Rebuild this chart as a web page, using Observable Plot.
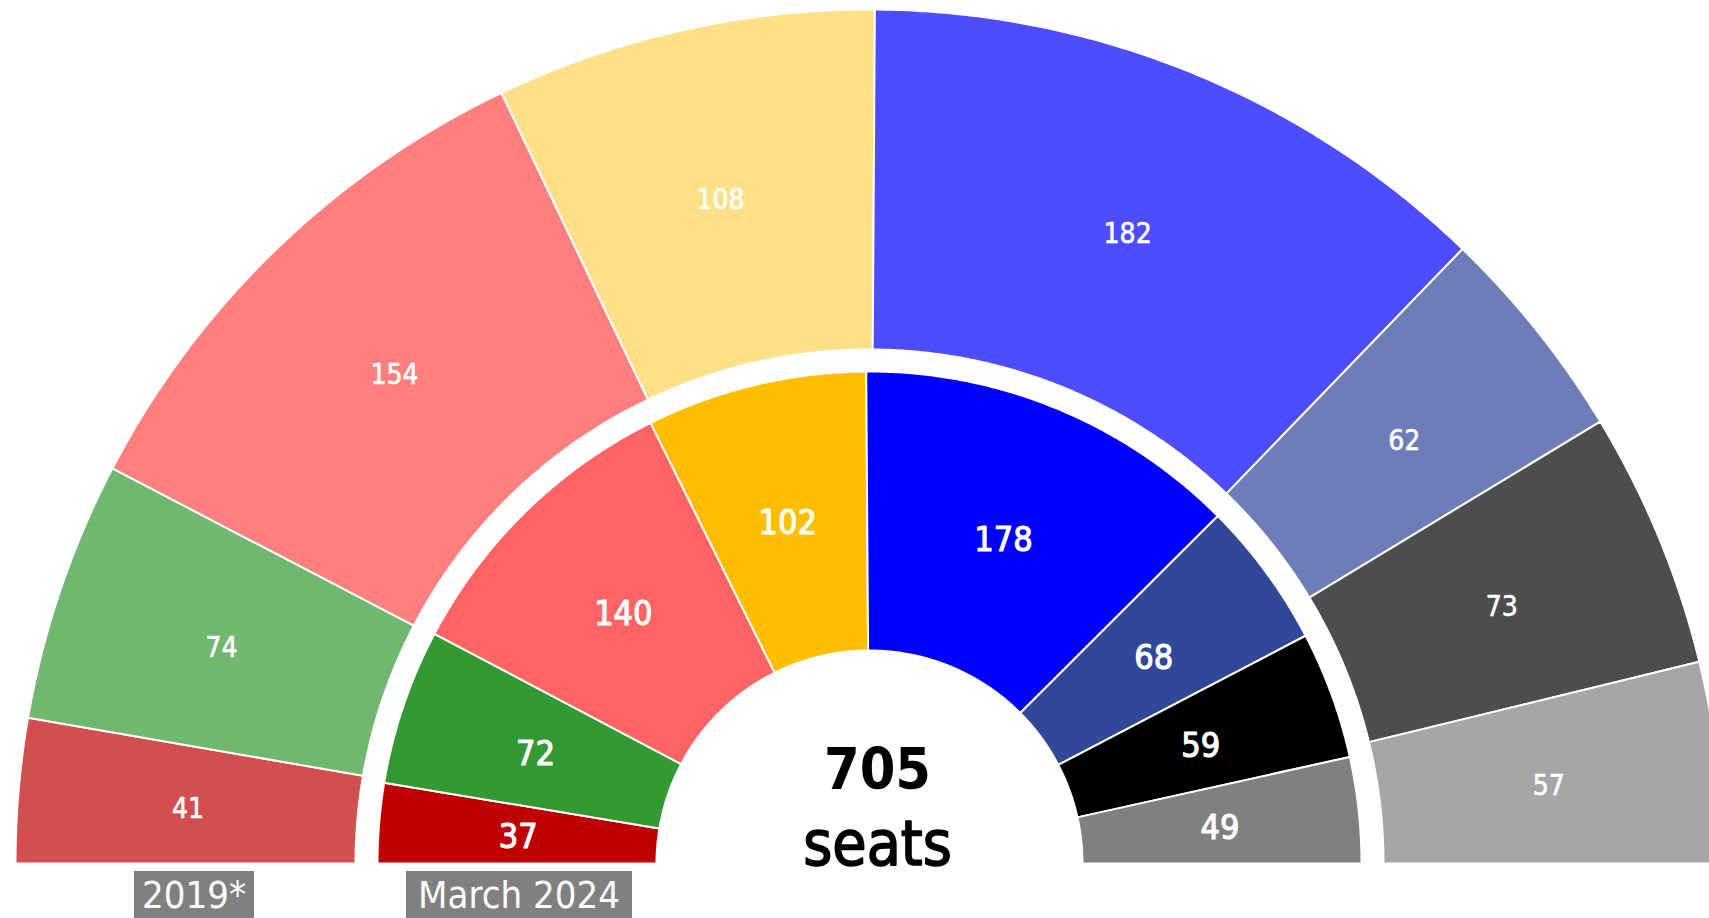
<!DOCTYPE html>
<html>
<head>
<meta charset="utf-8">
<script src="https://cdn.jsdelivr.net/npm/d3@7"></script>
<script src="https://cdn.jsdelivr.net/npm/@observablehq/plot@0.6"></script>
<style>
  html, body { margin: 0; padding: 0; background: #fff; }
  body { font-family: "DejaVu Sans Condensed", "DejaVu Sans", sans-serif; font-stretch: condensed; }
  #wrap { position: relative; width: 1709px; height: 918px; overflow: hidden; }
  #chart svg { display: block; overflow: hidden; }
  .tag { position: absolute; top: 871px; height: 47px; line-height: 48px; background: #808080; color: #fff;
         font-size: 38px; text-align: center; white-space: nowrap; }
</style>
</head>
<body>
<div id="wrap">
  <div id="chart"></div>
</div>
<script>
// ---- data ----
const groups = ["GUE/NGL", "Greens/EFA", "S&D", "Renew", "EPP", "ECR", "ID", "NI"];
const seats2019 = [41, 74, 154, 108, 182, 62, 73, 57];
const seats2024 = [37, 72, 140, 102, 178, 68, 59, 49];
const colors2019 = ["#d34e4e", "#70b870", "#ff7f7f", "#ffdf87", "#4d4dff", "#6d7db8", "#4d4d4d", "#a6a6a6"];
const colors2024 = ["#bf0000", "#339933", "#ff6363", "#ffbf00", "#0000ff", "#314899", "#000000", "#808080"];
const ringLabels = ["2019*", "March 2024"];
const centerUnit = "seats";

// ---- layout ----
const W = 1709, H = 890;
const cx = 869, baseline = 863;
const rings = [
  {name: ringLabels[0], values: seats2019, colors: colors2019, r0: 514, r1: 854},
  {name: ringLabels[1], values: seats2024, colors: colors2024, r0: 213, r1: 492}
];

const polys = [];
const labels = [];
rings.forEach((ring, ri) => {
  const total = d3.sum(ring.values);
  let cum = 0;
  ring.values.forEach((v, i) => {
    const a0 = Math.PI - Math.PI * cum / total;
    const a1 = Math.PI - Math.PI * (cum + v) / total;
    const key = ri + "-" + i;
    const n = 120;
    for (let k = 0; k <= n; k++) {
      const a = a0 + (a1 - a0) * k / n;
      polys.push({key, color: ring.colors[i], x: ring.r1 * Math.cos(a), y: ring.r1 * Math.sin(a)});
    }
    for (let k = n; k >= 0; k--) {
      const a = a0 + (a1 - a0) * k / n;
      polys.push({key, color: ring.colors[i], x: ring.r0 * Math.cos(a), y: ring.r0 * Math.sin(a)});
    }
    polys.push({key, color: ring.colors[i], x: ring.r1 * Math.cos(a0), y: ring.r1 * Math.sin(a0)});
    const am = (a0 + a1) / 2, rm = (ring.r0 + ring.r1) / 2;
    labels.push({ring: ri, group: groups[i], value: v, x: rm * Math.cos(am), y: rm * Math.sin(am)});
    cum += v;
  });
});
const total2024 = d3.sum(seats2024);

const fsBig = 57, fsUnit = 62;
const chart = Plot.plot({
  width: W, height: H,
  margin: 0,
  x: {domain: [-cx, W - cx], range: [0, W], axis: null},
  y: {domain: [-(H - baseline), baseline], range: [H, 0], axis: null},
  color: {type: "identity"},
  style: {fontFamily: '"DejaVu Sans Condensed", "DejaVu Sans", sans-serif', background: "#fff"},
  marks: [
    Plot.line(polys, {x: "x", y: "y", z: "key", fill: "color", stroke: "white", strokeWidth: 2, curve: "linear"}),
    Plot.text(labels.filter(d => d.ring === 0), {x: "x", y: "y", dy: 4, text: d => String(d.value), fill: "white",
      stroke: "white", strokeWidth: 0.6, fontSize: 28}),
    Plot.text(labels.filter(d => d.ring === 1), {x: "x", y: "y", dy: 3, text: d => String(d.value), fill: "white",
      stroke: "white", strokeWidth: 1.1, fontSize: 34}),
    Plot.text([total2024], {x: () => 0, y: () => 93.2, dx: 8, text: d => String(d), fill: "black", fontSize: fsBig, fontWeight: "bold"}),
    Plot.text([centerUnit], {x: () => 0, y: () => 18, dx: 8, text: d => d, fill: "black", stroke: "black", strokeWidth: 1.6, fontSize: fsUnit})
  ]
});
document.getElementById("chart").appendChild(chart);

// ring tags below the rings
const tagPos = [{left: 134, width: 120}, {left: 406, width: 226}];
ringLabels.forEach((t, i) => {
  const div = document.createElement("div");
  div.className = "tag";
  div.style.left = tagPos[i].left + "px";
  div.style.width = tagPos[i].width + "px";
  div.textContent = t;
  document.getElementById("wrap").appendChild(div);
});
</script>
</body>
</html>
